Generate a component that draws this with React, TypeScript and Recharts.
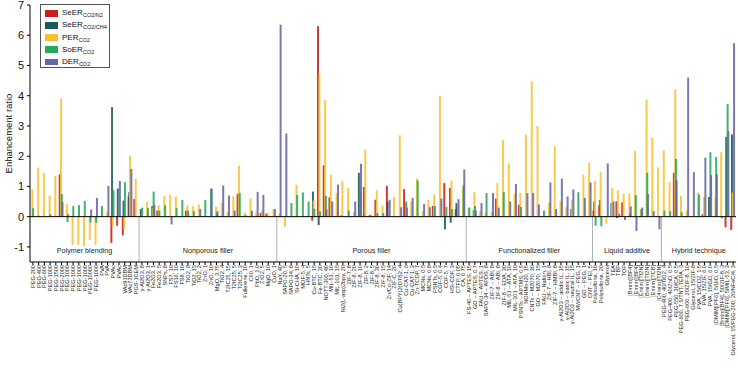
import React from 'react';
import { BarChart, Bar, XAxis, YAxis, ReferenceLine, ReferenceArea } from 'recharts';

const _ = null;
const FONT = '"Liberation Sans", Arial, sans-serif';

const polymerLabels = ['PEG-200','PEG-400','PEG-600','PEG-1000','PEG-1500','PEG-2000','PEG-1000','PEG-1000','PEG-1000','PEG-1000','PEG-10000','PEG-1000','PVA','PVA','PVAc','PVAc','VAc91DBM','VAc73DBM','PGS-1CEM'];
const nonporousLabels = ['γ-Al2O3, 8','γ-Al2O3, 1','Fe2O3, 1','Fe2O3, 5','SNPs, 8','FS7, 10','FS16, 10','FS8, 10','TiO2, 8','TiO2, 15','TiO2, 2','ZnO, 1','ZnO, 10','MgO, 3.75','TiO2, 4','T2IC25, 15','T2IC25, 5','T2IC25, 3','Fullerene, 10','C60, 1','PbO, 1.0','ZrO2, 5','MgO, 10','CuO, 1'];
const porousLabels = ['NaY, 40','SAPO-20, 5','SAPO-34, 8','Si-CHA, 10','MOF-5, 4','HNTs, 5','Cu-BTC, 15','Fe-BTC, 30','NOTT-300, 40','MIL-53, 10','MIL-101, 15','Ni2(L-asp)2bpy, 20','ZIF-7, 8','ZIF-8, 20','ZIF-8, 10','ZIF-8, 2','ZIF-8, 5','ZIF-8, 30','ZIF-8, 15','Zn/Co-ZIF, 14','ZIF-C, 20','Cu(BPY)2(OTf)2, 4','Cu-CAT-1, 6','Cu-CAT-1, 3','Zn-TCOP, 7','MCNs, 0.5','MCNs, 0.8','PSNTs, 0.5','COF-5, 0.4','COF-5, 7','HSi-COF, 3','CTFP, 0.05','CA, 0.75'];
const functionalizedLabels = ['FS-40 ~ APTES, 15','GO ~ APTES, 0.7','FAU ~ APTES, 1','SAPO-34 ~ APDS, 8','ZIF-7 ~ ABI, 8','ZIF-8 ~ ABI, 8','ZIF-8 ~ EDA, 30','MIL-53 ~ ATA, 10','MIL-101 ~ ATA, 10','PSNTs ~ APTMS, 0.5','NOHMs-I20, 15','CNTs ~ M2070, 30','GO ~ M2070, 15','FAU ~ Nafion, 1','ZIF-7 ~ HBI, 8','ZIF-7 ~ HMBI, 8','γ-Al2O3 ~ acidic IL, 15','γ-Al2O3 ~ basic IL, 15','γ-Al2O3 ~ neutral IL, 15','MWCNT ~ PEG, 1','GO ~ PEG, 1','CNT ~ PEI, 5'];
const liquidLabels = ['Polysulfone, 10','Polysulfone, 20','Glycerol','TEA','TBP','TOP','[Bmim][BF4]','[Emim][BF4]','[Emim][Tf2N]','[Bmim][Tf2N]','[Emim][TCB]','[C4mim][Tf2N]'];
const hybridLabels = ['PEG-400, 40/TiO2, 4','PEG-400, 40/ZnO, 0.5','PEG-550, 30/CA, 0.5','PEG-600, 7.5/TNT-TEPA, 3','PEG-600, 20/ZIF-8, 10','Glycerol, 15/ZIF-8','PVA, 15/CO2, 1.5','PVA, 15/ZIF, 6.0','PVA, 15/GO, 6.0','[OMIM][PF6], 5/UiO, 0.5','[Bmim][BF4], 50/ZIF-8, 3','[OMIM][PF6], 5/MIL-53, 3','Glycerol, 15/PEG-200, 20/NFeCl4, 3'];

const groupNames = ['Polymer blending','Nonporous filler','Porous filler','Functionalized filler','Liquid additive','Hybrid technique'];
const groupLabelLists = [polymerLabels, nonporousLabels, porousLabels, functionalizedLabels, liquidLabels, hybridLabels];
const categories: string[] = groupLabelLists.flat();

const seerN2 = [
  _,_,_,_,_,1.4,_,_,_,_,
  _,_,_,_,-0.87,-0.3,-0.62,0.67,0.58,_,
  _,_,0.2,_,_,_,_,0.2,_,_,
  _,_,_,_,_,_,0.75,_,_,_,
  0.12,0.1,_,_,_,_,_,_,_,-0.13,
  6.3,1.7,0.63,_,_,_,_,_,0.98,0.05,
  0.56,_,1.02,_,_,0.91,_,_,_,_,
  0.36,_,1.11,0.95,0.25,_,_,_,_,_,
  _,0.6,_,_,_,0.39,_,_,_,_,
  _,_,_,_,_,_,_,_,0.2,0.38,
  _,_,0.51,0.47,_,_,_,_,_,_,
  _,_,1.45,_,_,_,_,0.08,_,_,
  _,-0.35,-0.44,
];
const seerCH4 = [
  _,_,_,_,_,_,_,_,_,_,
  _,_,_,_,3.62,0.93,0.53,0.82,0.03,0.25,
  _,0.35,_,_,_,_,_,_,_,_,
  _,_,_,_,_,_,_,_,_,_,
  _,0.05,_,_,_,_,_,_,_,0.83,
  -0.28,_,_,_,0.05,_,_,1.45,0.08,0.05,
  _,_,0.5,_,_,_,_,_,_,_,
  _,_,-0.42,-0.2,0.45,_,_,0.22,_,_,
  _,_,_,_,_,_,_,_,_,_,
  _,_,_,_,0.25,_,_,_,0.5,0.55,
  _,0.45,-0.05,_,_,_,_,_,_,_,
  _,_,_,_,-0.02,_,_,_,0.65,_,
  _,2.64,2.72,
];
const perCO2 = [
  0.9,1.62,1.45,0.7,1.35,3.9,0.42,-0.93,-0.93,-0.97,
  -0.77,-0.93,_,0.15,-0.33,_,-0.4,2.0,1.25,_,
  0.5,0.3,0.38,0.68,0.72,0.67,_,0.38,0.35,0.4,
  _,_,0.33,0.47,0.15,0.68,1.68,0.15,0.6,0.15,
  0.2,0.13,0.25,0.1,-0.33,_,1.05,_,_,0.53,
  4.72,3.86,1.39,0.78,1.17,0.95,0.15,_,2.22,0.08,
  0.87,0.37,_,0.65,2.69,_,0.5,1.26,0.18,0.56,
  0.73,4.0,_,1.2,_,0.95,0.3,0.81,0.18,0.15,
  0.15,1.11,2.53,1.76,0.76,0.78,2.7,4.47,2.99,_,
  0.46,2.33,0.5,0.32,0.56,_,1.39,1.78,1.19,1.48,
  -0.24,0.95,0.87,0.76,0.77,2.17,0.25,3.87,2.61,1.63,
  2.19,1.15,4.22,0.69,0.2,_,0.8,0.65,_,0.6,
  2.13,_,0.8,
];
const soerCO2 = [
  0.28,0.03,0.03,0.08,0.03,0.75,-0.18,0.35,0.38,0.52,
  -0.2,-0.2,0.35,_,0.87,_,1.14,_,_,0.3,
  0.28,0.83,0.2,0.38,_,0.28,0.55,0.2,0.18,_,
  0.55,0.92,0.12,_,_,_,0.78,0.05,_,_,
  _,_,_,_,_,0.45,0.72,0.8,0.5,0.26,
  0.18,0.69,_,_,_,0.2,_,0.8,_,_,
  0.12,0.12,_,_,_,0.5,_,1.2,_,_,
  0.35,_,0.32,0.25,_,1.04,0.3,0.35,_,0.78,
  _,_,0.81,_,_,0.32,_,_,_,0.2,
  _,_,_,_,_,0.81,_,_,-0.3,-0.32,
  _,_,_,_,0.1,0.71,0.25,1.45,_,_,
  0.2,0.18,1.91,0.15,_,_,0.73,_,2.13,1.97,
  -0.05,3.72,_,
];
const derCO2 = [
  _,_,_,_,_,0.48,0.08,_,_,_,
  0.24,0.62,_,1.02,_,1.18,_,1.58,_,_,
  _,0.4,_,_,-0.26,_,_,_,_,0.25,
  _,0.93,0.18,1.03,0.7,0.2,_,_,0.2,0.82,
  0.72,_,0.25,6.35,2.75,_,_,_,_,_,
  _,0.25,0.5,1.06,_,_,0.5,1.75,_,_,
  _,_,0.56,_,0.31,0.3,0.62,_,0.42,0.31,
  _,0.6,_,_,0.58,1.56,_,0.2,0.45,_,
  0.78,0.3,_,0.5,1.08,_,0.78,0.78,0.4,_,
  1.13,0.25,1.26,0.67,0.9,_,0.62,1.13,_,_,
  1.76,0.5,0.1,-0.11,0.34,-0.48,0.3,0.75,0.18,-0.42,
  _,_,1.2,_,4.6,1.47,_,1.95,1.37,1.4,
  _,2.83,5.74,
];

const yTicks = [-1, 0, 1, 2, 3, 4, 5, 6, 7];

const seriesDefs = [
  { key: 'n2', main: 'SeER', sub: 'CO2/N2', color: '#cc1f1a' },
  { key: 'ch4', main: 'SeER', sub: 'CO2/CH4', color: '#1d5b58' },
  { key: 'per', main: 'PER', sub: 'CO2', color: '#f8c130' },
  { key: 'soer', main: 'SoER', sub: 'CO2', color: '#25a85b' },
  { key: 'der', main: 'DER', sub: 'CO2', color: '#6567a8' },
];

const data = categories.map((name, i) => ({
  idx: i,
  name,
  n2: seerN2[i],
  ch4: seerCH4[i],
  per: perCO2[i],
  soer: soerCO2[i],
  der: derCO2[i],
}));

const groupBounds: { start: number; end: number; name: string }[] = [];
{
  let s = 0;
  groupLabelLists.forEach((list, gi) => {
    groupBounds.push({ start: s, end: s + list.length, name: groupNames[gi] });
    s += list.length;
  });
}

const XTick = (props: any) => {
  const { x, y, payload } = props;
  return (
    <text
      x={x}
      y={y}
      transform={`rotate(-90 ${x} ${y})`}
      textAnchor="end"
      dominantBaseline="central"
      fontSize={5.6}
      fontFamily={FONT}
      fill="#222"
    >
      {categories[payload.value]}
    </text>
  );
};

const YLabel = (props: any) => {
  const vb = props.viewBox || { x: 0, y: 5, width: 30, height: 257 };
  const cx = 8;
  const cy = vb.y + vb.height / 2;
  return (
    <text
      x={cx}
      y={cy}
      transform={`rotate(-90 ${cx} ${cy})`}
      textAnchor="middle"
      dominantBaseline="central"
      fontSize={9.5}
      fontFamily={FONT}
      fill="#111"
    >
      Enhancement ratio
    </text>
  );
};

const LegendBox = () => (
  <div
    style={{
      position: 'absolute',
      left: 40,
      top: 4,
      width: 70,
      height: 64,
      boxSizing: 'border-box',
      border: '1px solid #555',
      background: '#fff',
      fontFamily: FONT,
    }}
  >
    {seriesDefs.map((s, i) => (
      <div key={s.key} style={{ position: 'absolute', left: 0, top: 8.3 + i * 12.1, height: 0 }}>
        <div
          style={{
            position: 'absolute',
            left: 3.7,
            top: -3.2,
            width: 13.3,
            height: 6.4,
            background: s.color,
          }}
        />
        <div
          style={{
            position: 'absolute',
            left: 21,
            top: -5,
            fontSize: 8,
            lineHeight: '10px',
            whiteSpace: 'nowrap',
            color: '#111',
          }}
        >
          {s.main}
          <span style={{ fontSize: 5.5, position: 'relative', top: 2 }}>{s.sub}</span>
        </div>
      </div>
    ))}
  </div>
);

export default function App() {
  return (
    <div style={{ position: 'absolute', left: 0, top: 0, width: 738, height: 369, background: '#fff' }}>
      <BarChart
        width={738}
        height={369}
        data={data}
        margin={{ top: 5, right: 2, left: 0, bottom: 0 }}
        barSize={2}
        barGap={-1.3}
        barCategoryGap={0}
      >
        <XAxis
          dataKey="idx"
          type="category"
          interval={0}
          height={107}
          tick={<XTick />}
          tickSize={3}
          tickMargin={0}
          stroke="#000"
          tickLine={{ stroke: '#000' }}
        />
        <XAxis xAxisId="g" type="number" dataKey="idx" domain={[0, categories.length]} hide allowDataOverflow />
        <YAxis
          width={30}
          domain={[-1.5, 7]}
          ticks={yTicks}
          interval={0}
          allowDataOverflow
          tickSize={3}
          tickMargin={3}
          stroke="#000"
          tick={{ fontSize: 11, fontFamily: FONT, fill: '#111' }}
          label={{ content: <YLabel /> } as any}
        />
        {groupBounds.slice(1).map((g) => (
          <ReferenceLine
            key={'sep' + g.start}
            xAxisId="g"
            segment={[{ x: g.start, y: 0 }, { x: g.start, y: -1.5 }]}
            stroke="#b0b0b0"
            strokeWidth={1}
          />
        ))}
        {groupBounds.map((g) => (
          <ReferenceArea
            key={'ga' + g.start}
            xAxisId="g"
            x1={g.start}
            x2={g.end}
            y1={-1.45}
            y2={-0.8}
            fill="none"
            fillOpacity={0}
            stroke="none"
            label={{ value: g.name, position: 'center', fontSize: 7.2, fill: '#222', fontFamily: FONT }}
          />
        ))}
        {seriesDefs.map((s) => (
          <Bar
            key={s.key}
            dataKey={s.key}
            fill={s.color}
            fillOpacity={0.88}
            isAnimationActive={false}
          />
        ))}
        <ReferenceLine y={0} stroke="#000" strokeWidth={1} />
      </BarChart>
      <LegendBox />
    </div>
  );
}
